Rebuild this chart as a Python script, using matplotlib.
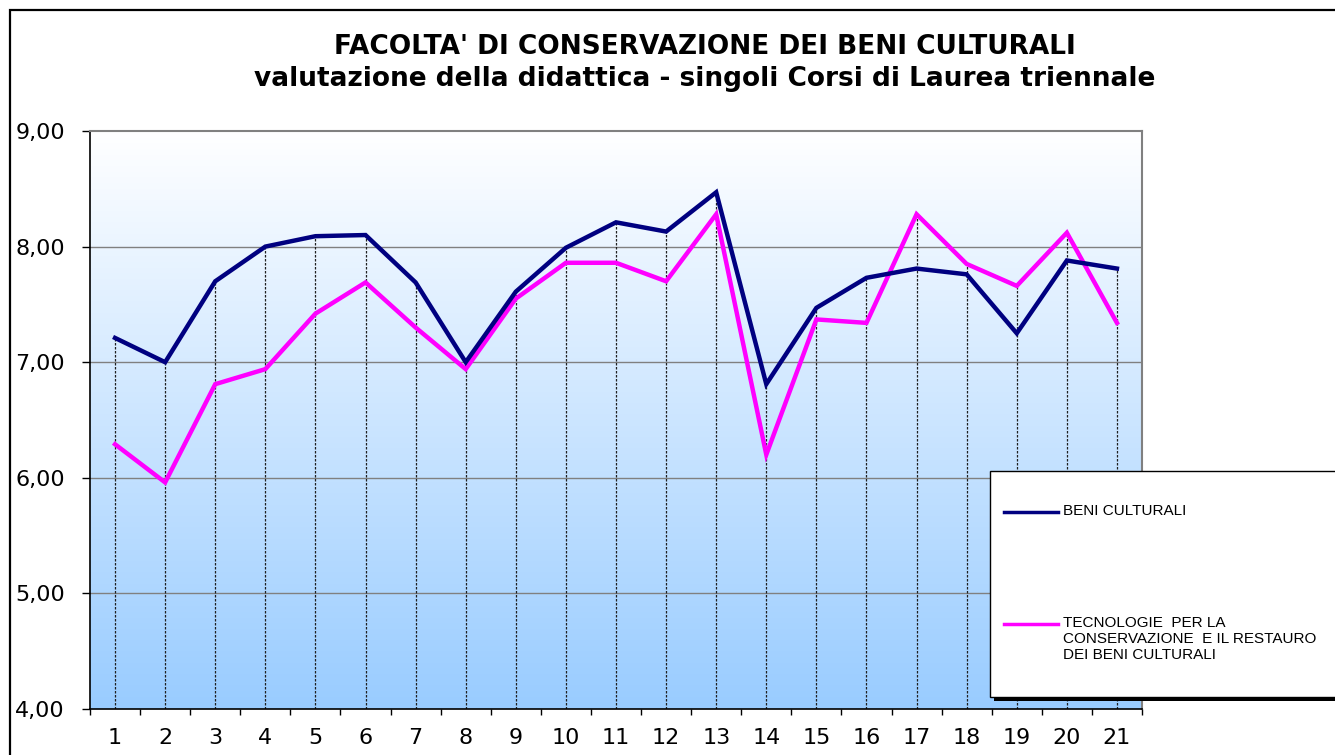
import numpy as np
import matplotlib
matplotlib.use("Agg")
import matplotlib.pyplot as plt
from matplotlib.patches import Rectangle
from matplotlib.lines import Line2D

### Dati
corsi = list(range(1, 22))
beni_culturali = [7.21, 7.00, 7.70, 8.00, 8.09, 8.10, 7.69, 7.00, 7.61, 7.99, 8.21,
                  8.13, 8.47, 6.81, 7.47, 7.73, 7.81, 7.76, 7.25, 7.88, 7.81]
tecnologie = [6.29, 5.96, 6.81, 6.94, 7.42, 7.69, 7.30, 6.94, 7.55, 7.86, 7.86,
              7.70, 8.28, 6.20, 7.37, 7.34, 8.28, 7.85, 7.66, 8.12, 7.34]
etichette = ["BENI CULTURALI",
             "TECNOLOGIE  PER LA\nCONSERVAZIONE  E IL RESTAURO\nDEI BENI CULTURALI"]
yticks = [4, 5, 6, 7, 8, 9]

titolo = "FACOLTA' DI CONSERVAZIONE DEI BENI CULTURALI\nvalutazione della didattica - singoli Corsi di Laurea triennale"

plt.rcParams['font.family'] = ['DejaVu Sans']

W, H = 1335, 755
fig = plt.figure(figsize=(W / 100, H / 100), dpi=100)
fig.patch.set_facecolor('white')

# cornice esterna
fig.patches.append(Rectangle((10 / W, -0.05), 1.1, 1 - 10 / H + 0.05, transform=fig.transFigure,
                             fill=False, edgecolor='black', linewidth=1.6, zorder=0))

ax = fig.add_axes([90 / W, 1 - 709 / H, (1142 - 90) / W, (709 - 131) / H])
ax.set_xlim(0.5, 21.5)
ax.set_ylim(4, 9)

# sfondo sfumato (bianco in alto, azzurro in basso)
grad = np.linspace(0, 1, 256).reshape(-1, 1)
top = np.array([1.0, 1.0, 1.0])
bot = np.array([153, 204, 255]) / 255
img = top[None, None, :] * (1 - grad[:, :, None]) + bot[None, None, :] * grad[:, :, None]
ax.imshow(img, extent=[0.5, 21.5, 4, 9], aspect='auto', zorder=0)

# griglia
for y in yticks[1:-1]:
    ax.axhline(y, color='#808080', linewidth=1, zorder=1)

# linee di caduta
xs = np.array(corsi)
alto = np.maximum(beni_culturali, tecnologie)
ax.vlines(xs, 4, alto, colors='#202020', linestyles=(0, (2, 1.2)), linewidth=0.9, zorder=2)

ax.plot(xs, beni_culturali, color='#000080', linewidth=3.2, zorder=4, solid_joinstyle='miter')
ax.plot(xs, tecnologie, color='#FF00FF', linewidth=3.2, zorder=3, solid_joinstyle='miter')

ax.set_yticks(yticks)
ax.set_yticklabels([f"{v:.2f}".replace('.', ',') for v in yticks], fontsize=16)
ax.set_xticks(xs)
ax.set_xticklabels([str(c) for c in corsi], fontsize=16)
ax.set_xticks(np.arange(0.5, 22, 1), minor=True)
ax.tick_params(axis='x', which='major', length=0, pad=14)
ax.tick_params(axis='x', which='minor', length=4.5, width=1, direction='out')
ax.tick_params(axis='y', length=6, width=1, direction='out', pad=12)

for s in ['top', 'right']:
    ax.spines[s].set_color('#808080')
    ax.spines[s].set_linewidth(1.5)
ax.spines['left'].set_color('black')
ax.spines['bottom'].set_color('black')
ax.spines['left'].set_linewidth(1.2)
ax.spines['bottom'].set_linewidth(1.2)

fig.text(705 / W, 1 - 63 / H, titolo, ha='center', va='center', fontsize=19,
         fontweight='bold', linespacing=1.3)

# legenda
lx0, ly0, lx1, ly1 = 990, 471, 1345, 697
fig.patches.append(Rectangle(((lx0 + 4) / W, 1 - (ly1 + 4) / H), (lx1 - lx0) / W, (ly1 - ly0) / H,
                             transform=fig.transFigure, facecolor='black', edgecolor='none', zorder=5))
fig.patches.append(Rectangle((lx0 / W, 1 - ly1 / H), (lx1 - lx0) / W, (ly1 - ly0) / H,
                             transform=fig.transFigure, facecolor='white', edgecolor='black',
                             linewidth=1, zorder=6))
for col, lab, yy in [('#000080', etichette[0], 512), ('#FF00FF', etichette[1], 624)]:
    fig.lines.append(Line2D([1004 / W, 1058 / W], [1 - yy / H, 1 - yy / H], transform=fig.transFigure,
                            color=col, linewidth=2.5, zorder=7))
    fig.text(1063 / W, 1 - (yy - 8) / H, lab, ha='left', va='top', fontsize=11,
             family='Liberation Sans', linespacing=1.2, zorder=7)

fig.savefig("out.png", dpi=100)
